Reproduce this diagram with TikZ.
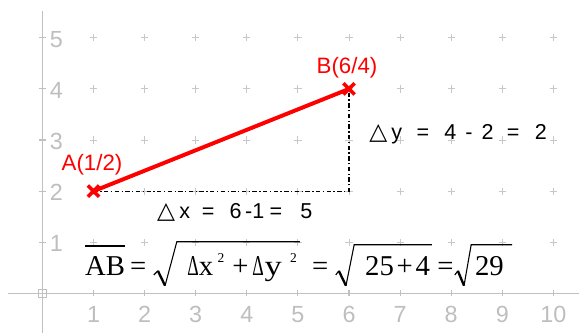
\documentclass[tikz,border=0pt]{standalone}
\usepackage{fontspec}
\usepackage{graphicx}
\setmainfont{Liberation Sans}
\newfontfamily\serifff{Liberation Serif}
\newfontfamily\dvfont{DejaVu Sans}
\definecolor{axisgray}{RGB}{192,192,192}
\definecolor{gridgray}{RGB}{200,200,200}
\definecolor{labelgray}{RGB}{190,190,190}
\definecolor{ptred}{RGB}{255,0,0}
\newcommand{\narrowdelta}{\scalebox{0.62}[1]{Δ}}
\begin{document}
\begin{tikzpicture}[
  axis/.style={draw=axisgray, line width=0.6pt},
  gridcross/.style={draw=gridgray, line width=0.5pt},
  axlabel/.style={text=labelgray, font=\fontsize{13}{14}\selectfont, inner sep=0},
  ptlabel/.style={text=ptred, font=\fontsize{12.4}{13}\selectfont, inner sep=0},
  seg/.style={draw=ptred, line width=2.2pt},
  ptcross/.style={draw=ptred, line width=2pt},
  helper/.style={draw=black, line width=0.7pt, dash pattern=on 2.4pt off 1.4pt on 0.7pt off 1.4pt},
  deltatext/.style={font=\fontsize{12}{13}\selectfont, inner sep=0, anchor=west},
  formula/.style={font=\serifff\fontsize{16}{16}\selectfont, inner sep=0, anchor=base west},
  supscr/.style={font=\serifff\fontsize{7.5}{8}\selectfont, inner sep=0, anchor=base west},
  radthin/.style={line width=0.6pt},
  radthick/.style={line width=1.3pt},
]
\useasboundingbox (-0.83,-0.77) rectangle (10.50,5.74);
% grid crosses
\foreach \i in {1,...,10} \foreach \j in {1,...,5}
  \draw[gridcross] (\i-0.07,\j) -- (\i+0.07,\j) (\i,\j-0.07) -- (\i,\j+0.07);
% axes
\draw[axis] (-0.68,0) -- (10.5,0);
\draw[axis] (0,5.52) -- (0,-0.77);
\draw[axis] (-0.08,-0.08) rectangle (0.08,0.08);
\foreach \i in {1,...,10} {
  \draw[axis] (\i,-0.06) -- (\i,0.06);
  \node[axlabel] (xl\i) at (\i,-0.41) {\i};
}
\foreach \j in {1,...,5} {
  \draw[axis] (-0.07,\j) -- (0.07,\j);
  \node[axlabel, anchor=west] (yl\j) at (0.14,\j-0.03) {\j};
}
% points
\coordinate (A) at (1,2);
\coordinate (B) at (6,4);
\coordinate (C) at (6,2);
\draw[helper] (A) -- (C) -- (B);
\draw[seg] (A) -- (B);
\draw[ptcross, shift={(A)}] (-0.11,-0.11) -- (0.11,0.11) (-0.11,0.11) -- (0.11,-0.11);
\draw[ptcross, shift={(B)}] (-0.11,-0.11) -- (0.11,0.11) (-0.11,0.11) -- (0.11,-0.11);
\node[ptlabel] (Alab) at (0.97,2.51) {A(1/2)};
\node[ptlabel] (Blab) at (5.96,4.41) {B(6/4)};
% delta texts
\node[deltatext] (dx) at (2.24,1.59) {{\dvfont\fontsize{13}{13}\selectfont △}\hspace{2.3pt}x\hspace{6.5pt}=\hspace{8.5pt}6\hspace{2pt}-1\hspace{3pt}=\hspace{10pt}5};
\node[deltatext] (dy) at (6.39,3.12) {{\dvfont\fontsize{13}{13}\selectfont △}\hspace{2.3pt}y\hspace{8pt}=\hspace{8.5pt}4\hspace{5pt}-\hspace{5pt}2\hspace{7.5pt}=\hspace{8.5pt}2};
% formula
\node[formula] (ab) at (0.83,0.34) {AB};
\draw[line width=0.8pt] ([yshift=6pt]ab.north west) -- ([yshift=6pt]ab.north east);
\node[formula] (eq1) at (1.71,0.34) {=};
\draw[radthin] (2.18,0.36) -- (2.26,0.44);
\draw[radthick] (2.26,0.44) -- (2.40,0.15);
\draw[radthin] (2.40,0.15) -- (2.63,1.01) -- (5.04,1.01);
\node[formula] (dxsq) at (2.83,0.34) {\narrowdelta x};
\node[supscr] (sup1) at (3.42,0.60) {2};
\node[formula] (plus1) at (3.71,0.34) {+};
\node[formula] (dysq) at (4.10,0.34) {\narrowdelta\hspace{0.5pt}\scalebox{1.2}[1]{y}};
\node[supscr] (sup2) at (4.84,0.60) {2};
\node[formula] (eq2) at (5.27,0.34) {=};
\draw[radthin] (5.74,0.36) -- (5.80,0.44);
\draw[radthick] (5.80,0.44) -- (5.94,0.15);
\draw[radthin] (5.94,0.15) -- (6.10,0.95) -- (7.62,0.95);
\node[formula] (sum) at (6.31,0.34) {25\hspace{1.5pt}+\hspace{1.5pt}4};
\node[formula] (eq3) at (7.72,0.34) {=};
\draw[radthin] (8.07,0.36) -- (8.13,0.44);
\draw[radthick] (8.13,0.44) -- (8.25,0.15);
\draw[radthin] (8.25,0.15) -- (8.39,0.95) -- (9.19,0.95);
\node[formula] (n29) at (8.46,0.34) {29};
\end{tikzpicture}
\end{document}
